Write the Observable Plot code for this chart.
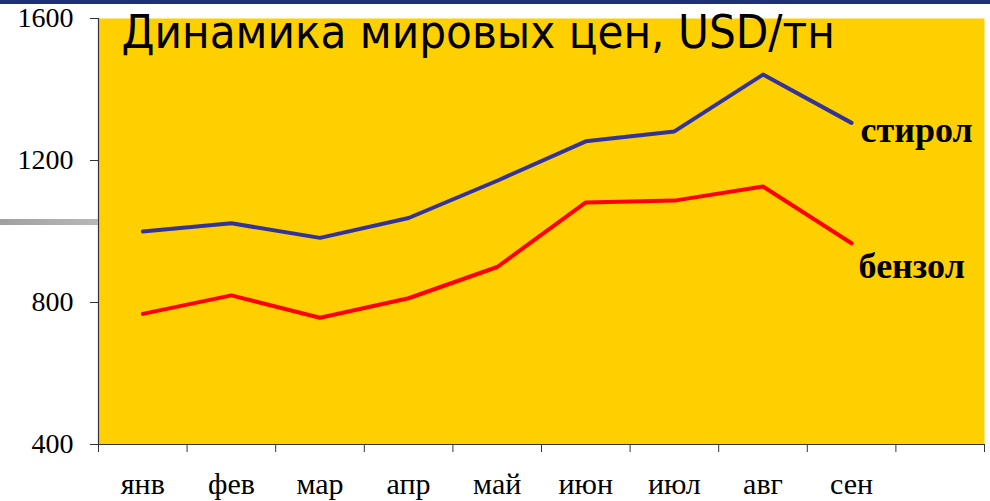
<!DOCTYPE html>
<html><head><meta charset="utf-8">
<script src="https://cdn.jsdelivr.net/npm/d3@7"></script>
<script src="https://cdn.jsdelivr.net/npm/@observablehq/plot@0.6"></script>
<style>
body{margin:0;background:#fff;}
#wrap{position:relative;width:990px;height:501px;overflow:hidden;}
#topbar{position:absolute;left:0;top:0;width:990px;height:4px;background:#1c3177;z-index:2;}
#greybar{position:absolute;left:0;top:219px;width:98px;height:6px;background:linear-gradient(to right,#a0a0a0,#b8b8b8);z-index:2;}
#chart{position:absolute;left:0;top:0;}
</style></head><body><div id="wrap"><div id="chart"></div><div id="topbar"></div><div id="greybar"></div></div>
<script>
const months = ["янв","фев","мар","апр","май","июн","июл","авг","сен"];
const styrene = [1000,1023,982,1038,1143,1254,1282,1442,1306];
const benzene = [768,820,757,812,900,1082,1087,1127,967];
const seriesNames = ["стирол","бензол"];
const seriesColors = ["#333399","#ff0000"];
const yTicks = [400,800,1200,1600];
const title = "Динамика мировых цен, USD/тн";
const slots = 10;

const data = [
  ...months.map((m,i)=>({series:seriesNames[0], i, m, v:styrene[i]})),
  ...months.map((m,i)=>({series:seriesNames[1], i, m, v:benzene[i]}))
];
const X = d => d.i + 0.5;
const serif = "'Liberation Serif','Times New Roman',serif";

const plot = Plot.plot({
  width: 990, height: 501,
  marginLeft: 98, marginRight: 6, marginTop: 18, marginBottom: 57,
  style: {fontFamily: serif, fontSize: "27px", color: "#000", background: "transparent", overflow: "visible"},
  x: {domain: [0, slots], axis: null},
  y: {domain: [400, 1600], axis: null},
  color: {domain: seriesNames, range: seriesColors},
  marks: [
    Plot.frame({fill: "#ffd000", stroke: null}),
    Plot.line(data, {x: X, y: "v", z: "series", stroke: "series", strokeWidth: 4}),
    Plot.ruleX([0], {stroke: "#333", strokeWidth: 1.2}),
    Plot.ruleY([400], {stroke: "#333", strokeWidth: 1.2}),
    Plot.axisY({ticks: yTicks, tickSize: 8, tickPadding: 17, fontSize: 28, fontFamily: serif, stroke: "#333", label: null, tickFormat: d => String(d)}),
    Plot.axisX({ticks: d3.range(slots + 1), tickSize: 8, tickFormat: () => "", stroke: "#333", label: null}),
    Plot.axisX({ticks: months.map((m,i)=>i+0.5), tickSize: 0, tickPadding: 28, fontSize: 30, fontFamily: serif, label: null, tickFormat: d => months[Math.floor(d)]}),
    Plot.text(data, Plot.selectLast({x: X, y: "v", z: "series", text: "series", filter: d => d.series === seriesNames[0],
      textAnchor: "start", dx: 9, dy: 7.5, fontWeight: "bold", fontSize: 36, fontFamily: serif, fill: "#000"})),
    Plot.text(data, Plot.selectLast({x: X, y: "v", z: "series", text: "series", filter: d => d.series === seriesNames[1],
      textAnchor: "start", dx: 7, dy: 23, fontWeight: "bold", fontSize: 36, fontFamily: serif, fill: "#000"})),
    Plot.text([title], {frameAnchor: "top-left", text: d => d, dx: 23, dy: -4, fontSize: 47,
      fontFamily: "'DejaVu Sans Condensed','DejaVu Sans',sans-serif", fontStretch: "condensed", fill: "#000", textAnchor: "start"})
  ]
});
document.getElementById("chart").appendChild(plot);
</script>
</body></html>
